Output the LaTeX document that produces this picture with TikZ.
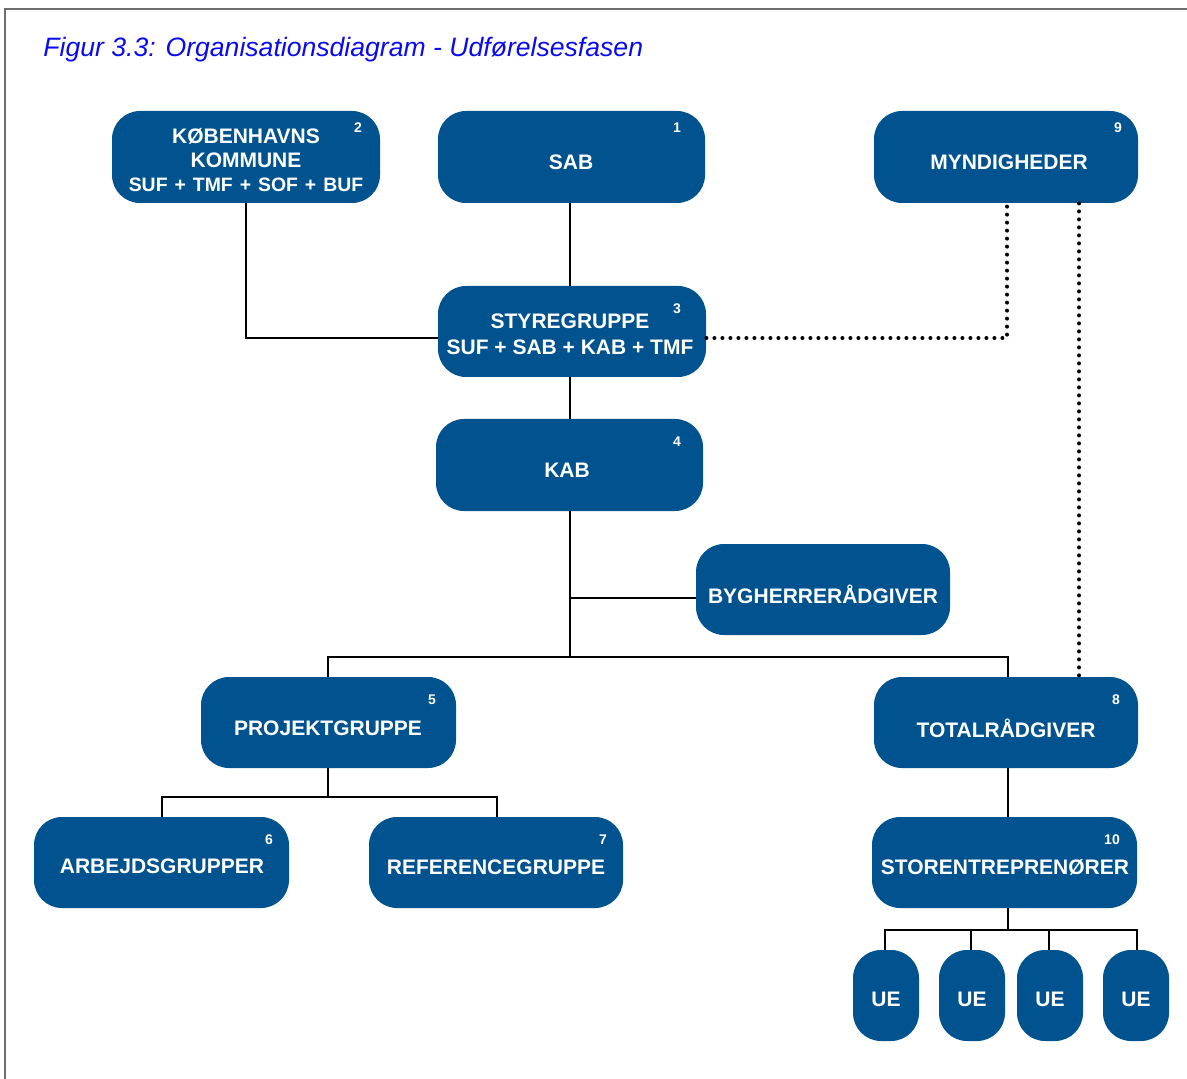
\documentclass[tikz,border=0pt]{standalone}
\usepackage{fontspec}
\setmainfont{Liberation Sans}
\definecolor{boxblue}{RGB}{0,83,143}
\definecolor{framegray}{RGB}{110,110,110}
\definecolor{titleblue}{RGB}{10,10,240}
\begin{document}
\begin{tikzpicture}[x=0.5pt,y=-0.5pt,
  box/.style={draw=none,fill=boxblue,rounded corners=14pt,inner sep=0pt,minimum width=#1},
  box/.default=133.5pt,
  tall/.style={minimum height=46pt},
  txt/.style={text=white,font=\fontsize{10.5}{12}\selectfont\bfseries,align=center,inner sep=0pt},
  num/.style={text=white,font=\fontsize{7}{8}\selectfont\bfseries,inner sep=0pt},
  conn/.style={draw=black,line width=1pt},
  dotl/.style={draw=black,line width=2pt,line cap=round,dash pattern=on 0pt off 4pt}]
\useasboundingbox (0,0) rectangle (1187,1079);
% frame
\draw[framegray,line width=0.8pt] (5,1079) -- (5,9) -- (1187,9);
% title
\node[anchor=base west,inner sep=0pt,text=titleblue,font=\fontsize{13.3}{15}\selectfont\itshape] (title) at (43,57) {Figur 3.3: Organisationsdiagram - Udførelsesfasen};
% boxes
\node[box=134pt,tall] (kbh) at (246,157) {};
\node[txt,text width=130pt] (kbhT) at (246,160) {KØBENHAVNS\\KOMMUNE\\{\fontsize{9.7}{12}\selectfont SUF + TMF + SOF + BUF}};
\node[num] (kbhN) at (358,128) {2};

\node[box=133.5pt,tall] (sab) at (571.5,157) {};
\node[txt] (sabT) at (571,162) {SAB};
\node[num] (sabN) at (677,128) {1};

\node[box=132pt,tall] (myn) at (1006,157) {};
\node[txt] (mynT) at (1009,162) {MYNDIGHEDER};
\node[num] (mynN) at (1118,128) {9};

\node[box=134pt,minimum height=45.5pt] (sty) at (572,331.5) {};
\node[txt,font=\fontsize{10.5}{13}\selectfont\bfseries] (styT) at (570,334) {STYREGRUPPE\\SUF + SAB + KAB + TMF};
\node[num] (styN) at (677,309) {3};

\node[box=133.5pt,tall] (kab) at (569.5,465) {};
\node[txt] (kabT) at (567,470) {KAB};
\node[num] (kabN) at (677,442) {4};

\node[box=127pt,minimum height=45.5pt] (byg) at (823,589.5) {};
\node[txt] (bygT) at (823,594) {BYGHERRERÅDGIVER};

\node[box=127.5pt,minimum height=45.5pt] (proj) at (328.5,722.5) {};
\node[txt] (projT) at (328,728) {PROJEKTGRUPPE};
\node[num] (projN) at (432,700) {5};

\node[box=132pt,minimum height=45.5pt] (tot) at (1006,722.5) {};
\node[txt] (totT) at (1006,728) {TOTALRÅDGIVER};
\node[num] (totN) at (1116,700) {8};

\node[box=127.5pt,minimum height=45.5pt] (arb) at (161.5,862.5) {};
\node[txt] (arbT) at (162,866) {ARBEJDSGRUPPER};
\node[num] (arbN) at (269,840) {6};

\node[box=127pt,minimum height=45.5pt] (ref) at (496,862.5) {};
\node[txt] (refT) at (496,867) {REFERENCEGRUPPE};
\node[num] (refN) at (603,840) {7};

\node[box=132.5pt,minimum height=45.5pt] (sto) at (1004.5,862.5) {};
\node[txt] (stoT) at (1005,867) {STORENTREPRENØRER};
\node[num] (stoN) at (1112,840) {10};

\node[box=33pt,minimum height=45.5pt] (ue1) at (886,995.5) {};
\node[txt] (ue1T) at (886,999) {UE};
\node[box=33pt,minimum height=45.5pt] (ue2) at (972,995.5) {};
\node[txt] (ue2T) at (972,999) {UE};
\node[box=33pt,minimum height=45.5pt] (ue3) at (1050,995.5) {};
\node[txt] (ue3T) at (1050,999) {UE};
\node[box=33pt,minimum height=45.5pt] (ue4) at (1136,995.5) {};
\node[txt] (ue4T) at (1136,999) {UE};

% connectors
\draw[conn] (sab.south -| 570,0) -- (sty.north -| 570,0);
\draw[conn] (kbh.south) -- (kbh.south |- 0,338) -- (sty.west |- 0,338);
\draw[conn] (sty.south -| 570,0) -- (kab.north -| 570,0);
\coordinate (kabdown) at (570,657);
\draw[conn] (kab.south -| 570,0) -- (kabdown);
\draw[conn] (570,598) -- (byg.west |- 0,598);
\draw[conn] (proj.north -| 328,0) -- (328,657) -- (1008,657) -- (tot.north -| 1008,0);
\draw[conn] (proj.south -| 328,0) -- (328,797);
\draw[conn] (arb.north -| 162,0) -- (162,797) -- (497,797) -- (ref.north -| 497,0);
\draw[conn] (tot.south -| 1008,0) -- (sto.north -| 1008,0);
\draw[conn] (sto.south -| 1008,0) -- (1008,930);
\draw[conn] (ue1.north -| 885,0) -- (885,930) -- (1137,930) -- (ue4.north -| 1137,0);
\draw[conn] (971,930) -- (ue2.north -| 971,0);
\draw[conn] (1049,930) -- (ue3.north -| 1049,0);
% dotted
\draw[dotl] (sty.east |- 0,338) -- (1007,338) -- (myn.south -| 1007,0);
\draw[dotl] (myn.south -| 1079,0) -- (tot.north -| 1079,0);
\end{tikzpicture}
\end{document}
